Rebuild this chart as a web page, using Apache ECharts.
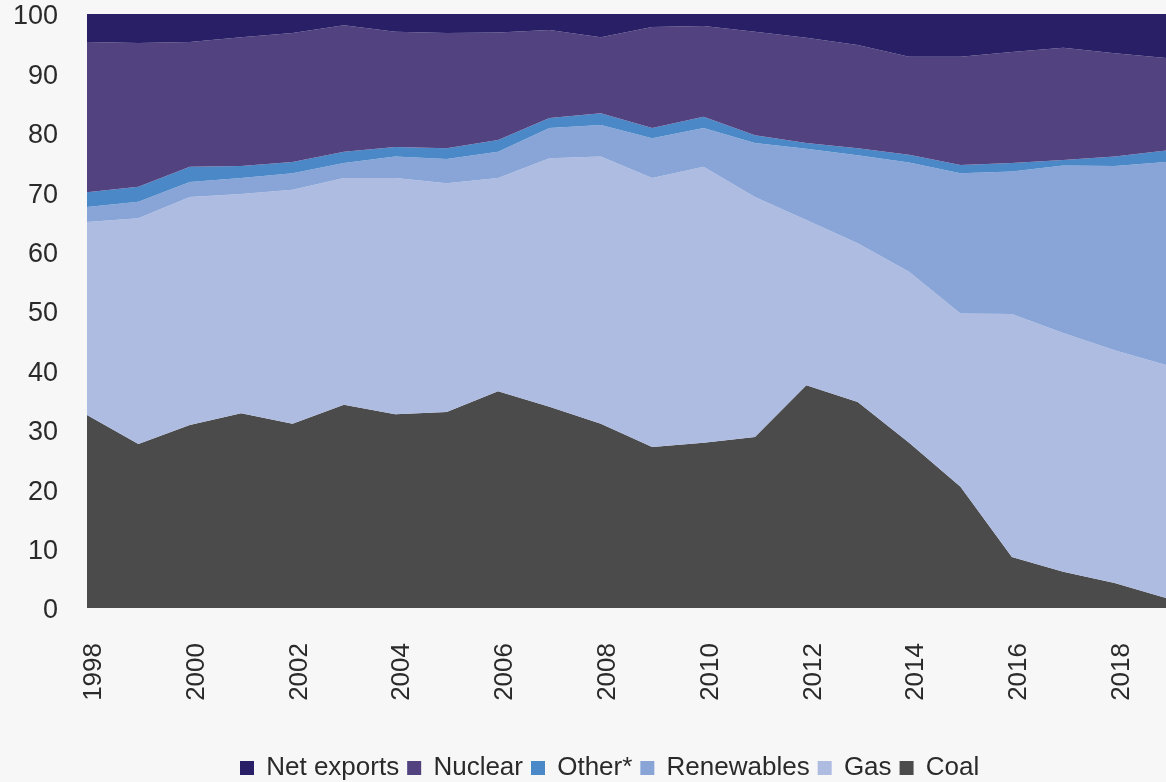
<!DOCTYPE html>
<html>
<head>
<meta charset="utf-8">
<script src="https://cdn.jsdelivr.net/npm/echarts@6/dist/echarts.min.js"></script>
<style>
  html, body { margin: 0; padding: 0; background: #f7f7f7; }
  #chart { width: 1166px; height: 782px; }
</style>
</head>
<body>
<div id="chart"></div>
<script>
const years = ['1998', '1999', '2000', '2001', '2002', '2003', '2004', '2005', '2006', '2007', '2008',
  '2009', '2010', '2011', '2012', '2013', '2014', '2015', '2016', '2017', '2018', '2019']

// share of generation, %
const coal = [32.5, 27.6, 30.8, 32.8, 31.0, 34.2, 32.6, 33.0, 36.5, 33.9, 31.0, 27.1, 27.8, 28.8, 37.5, 34.7, 27.8, 20.4, 8.6, 6.1, 4.2, 1.7]
const gas = [32.5, 38.0, 38.4, 36.9, 39.4, 38.2, 39.8, 38.5, 35.9, 41.8, 45.0, 45.3, 46.5, 40.4, 27.8, 26.7, 28.8, 29.2, 40.9, 40.2, 39.2, 39.2]
const renewables = [2.5, 2.8, 2.5, 2.7, 2.8, 2.5, 3.6, 4.1, 4.4, 5.1, 5.3, 6.7, 6.5, 9.1, 12.0, 14.8, 18.4, 23.6, 24.0, 28.2, 31.0, 34.2]
const other = [2.5, 2.5, 2.6, 2.0, 1.9, 1.9, 1.6, 1.8, 2.0, 1.7, 2.0, 1.7, 1.9, 1.3, 1.0, 1.2, 1.3, 1.4, 1.4, 0.9, 1.6, 1.9]
const nuclear = [25.3, 24.2, 21.0, 21.7, 21.7, 21.3, 19.4, 19.4, 18.1, 14.8, 12.8, 17.0, 15.3, 17.4, 17.7, 17.4, 16.5, 18.2, 18.7, 18.9, 17.4, 15.6]
const netExports = [4.7, 4.9, 4.7, 3.9, 3.2, 1.9, 3.0, 3.2, 3.1, 2.7, 3.9, 2.2, 2.0, 3.0, 4.0, 5.2, 7.2, 7.2, 6.4, 5.7, 6.6, 7.4]

const legendOrder = ['Net exports', 'Nuclear', 'Other*', 'Renewables', 'Gas', 'Coal']

const font = '"Liberation Sans", Arial, sans-serif'

function area(name, data, color) {
  return {
    type: 'line', name, data, stack: 'total',
    symbol: 'none', lineStyle: { width: 0 },
    itemStyle: { color },
    areaStyle: { color, opacity: 1 }
  }
}

const chart = echarts.init(document.getElementById('chart'))
chart.setOption({
  backgroundColor: '#f7f7f7',
  animation: false,
  textStyle: { fontFamily: font },
  grid: { left: 87, right: 0, top: 14, bottom: 174, containLabel: false },
  legend: {
    data: legendOrder,
    top: 750, left: 235,
    itemWidth: 14, itemHeight: 14, itemGap: 8,
    icon: 'rect',
    formatter: name => ' ' + name,
    textStyle: { fontSize: 26, color: '#2a2a2a', fontFamily: font }
  },
  xAxis: {
    type: 'category', data: years, boundaryGap: false,
    axisLine: { show: false }, axisTick: { show: false },
    axisLabel: {
      interval: 1, rotate: 90, margin: 35, fontSize: 26, color: '#2a2a2a',
      verticalAlign: 'top', lineHeight: 14
    }
  },
  yAxis: {
    type: 'value', min: 0, max: 100, interval: 10,
    splitLine: { show: false },
    axisLabel: { margin: 29, fontSize: 27, color: '#2a2a2a', verticalAlign: 'top', lineHeight: 6 }
  },
  series: [
    area('Coal', coal, '#4b4b4b'),
    area('Gas', gas, '#aebce2'),
    area('Renewables', renewables, '#89a5d8'),
    area('Other*', other, '#4b88c7'),
    area('Nuclear', nuclear, '#52427f'),
    area('Net exports', netExports, '#281f66')
  ]
})
</script>
</body>
</html>
